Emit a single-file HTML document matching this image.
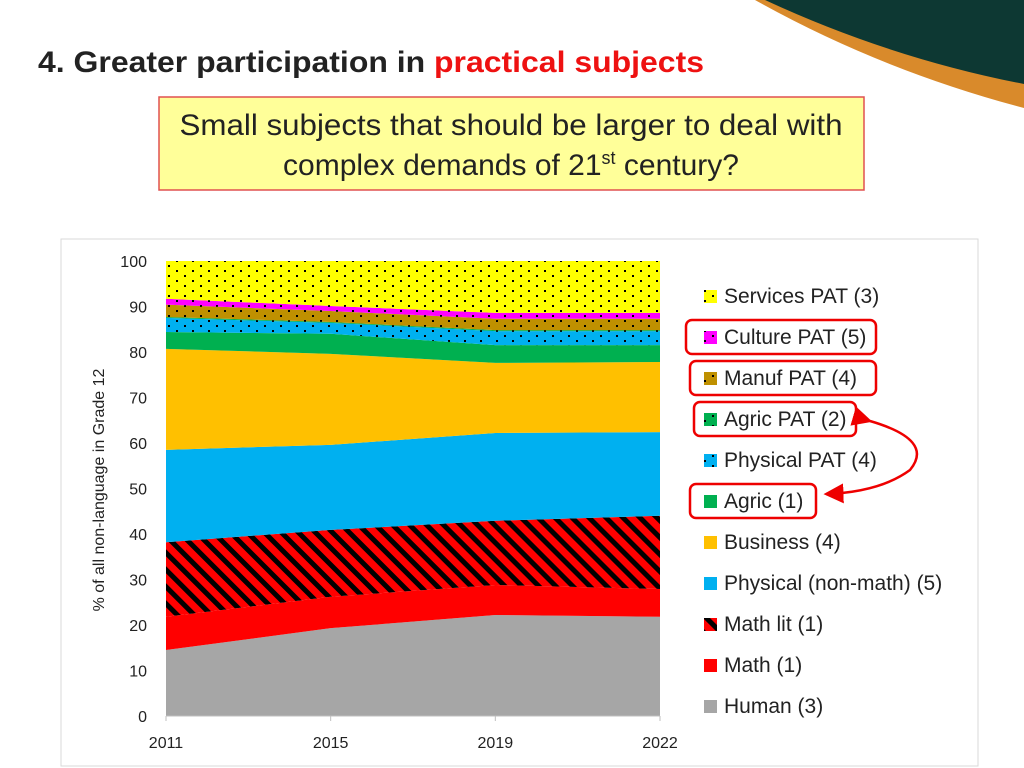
<!DOCTYPE html>
<html><head><meta charset="utf-8"><style>
body{margin:0;width:1024px;height:768px;overflow:hidden;background:#fff;font-family:"Liberation Sans",sans-serif;}
svg{position:absolute;left:0;top:0}
</style></head><body>
<svg width="1024" height="768">
<defs>
<pattern id="dots" width="16" height="10" patternUnits="userSpaceOnUse"><rect x="0" y="0" width="2" height="2" fill="#000"/><rect x="8" y="5" width="2" height="2" fill="#000"/></pattern>
<pattern id="stripes" width="12" height="12" patternUnits="userSpaceOnUse" patternTransform="rotate(-45)"><rect width="12" height="12" fill="#ff0000"/><rect width="5" height="12" fill="#000"/></pattern>
<marker id="ah" markerWidth="8" markerHeight="8" refX="7" refY="4" orient="auto"><path d="M0,0 L8,4 L0,8 z" fill="#e00"/></marker>
</defs>
<path d="M755,0 Q880,70 1024,108 L1024,0 Z" fill="#d98a2b"/>
<path d="M765,0 Q890,58 1024,84 L1024,0 Z" fill="#0d3833"/>
<text x="38" y="72" font-size="30" font-weight="bold" fill="#222" textLength="666" lengthAdjust="spacingAndGlyphs">4. Greater participation in <tspan fill="#ee1111">practical subjects</tspan></text>
<rect x="159" y="97" width="705" height="93" fill="#ffff99" stroke="#e05050" stroke-width="1.5"/>
<text x="511" y="135" font-size="30" text-anchor="middle" fill="#222" textLength="663" lengthAdjust="spacingAndGlyphs">Small subjects that should be larger to deal with</text>
<text x="511" y="175" font-size="30" text-anchor="middle" fill="#222">complex demands of 21<tspan font-size="18" dy="-11">st</tspan><tspan dy="11"> century?</tspan></text>
<rect x="61" y="239" width="917" height="527" fill="#fff" stroke="#d9d9d9"/>
<g id="chart"></g>
<text transform="translate(104,490) rotate(-90)" font-size="16" text-anchor="middle" fill="#222">% of all non-language in Grade 12</text>
<g id="legend"></g>
<g fill="none" stroke="#e00" stroke-width="2.5">
<rect x="686" y="320" width="190" height="34" rx="6"/>
<rect x="690" y="361" width="186" height="34" rx="6"/>
<rect x="694" y="402" width="162" height="34" rx="6"/>
<rect x="690" y="484" width="126" height="34" rx="6"/>
</g>
<path d="M870,421 Q935,440 910,470 Q880,492 826,494" fill="none" stroke="#e00" stroke-width="2.5" marker-start="url(#ah)" marker-end="url(#ah)"/>
</svg>
<script>
const years=["2011","2015","2019","2022"];
const seriesNames=["Human (3)","Math (1)","Math lit (1)","Physical (non-math) (5)","Business (4)","Agric (1)","Physical PAT (4)","Agric PAT (2)","Manuf PAT (4)","Culture PAT (5)","Services PAT (3)"];
const human=[14.5,19.3,22.2,21.8];
const math=[7.3,6.9,6.6,6.1];
const mathLit=[16.4,14.7,14.1,16.1];
const physical=[20.3,18.7,19.3,18.4];
const business=[22.2,20.0,15.4,15.4];
const agric=[3.7,4.4,3.9,3.7];
const physPAT=[3.1,2.4,3.1,3.1];
const agricPAT=[0.2,0.2,0.2,0.2];
const manufPAT=[2.7,2.4,2.5,2.5];
const culturePAT=[1.3,1.1,1.3,1.3];
const servicesPAT=[8.3,9.9,11.4,11.4];
const yTicks=[0,10,20,30,40,50,60,70,80,90,100];
const NS="http://www.w3.org/2000/svg";
const fills=["#a6a6a6","#ff0000","url(#stripes)","#00b0f0","#ffc000","#00b050","#00b0f0","#00b050","#bf9000","#ff00ff","#ffff00"];
const dotted=[false,false,false,false,false,false,true,true,true,true,true];
const all=[human,math,mathLit,physical,business,agric,physPAT,agricPAT,manufPAT,culturePAT,servicesPAT];
const x0=166,x1=660,yb=716,yt=261;
const xs=i=>x0+(x1-x0)*i/(years.length-1);
const ys=v=>yb-(yb-yt)*v/100;
const g=document.getElementById('chart');
function mk(t,a){const e=document.createElementNS(NS,t);for(const k in a)e.setAttribute(k,a[k]);return e;}
let base=years.map(()=>0);
all.forEach((s,si)=>{
  const top=base.map((b,i)=>b+s[i]);
  let d="M"+top.map((v,i)=>xs(i)+","+ys(v)).join(" L");
  for(let i=years.length-1;i>=0;i--)d+=" L"+xs(i)+","+ys(base[i]);
  d+=" Z";
  const p=mk('path',{d:d,fill:fills[si]});
  
  
  g.appendChild(p);
  if(dotted[si]){const q=mk('path',{d:d,fill:"url(#dots)"});
    
    
    g.appendChild(q);}
  base=top;
});
const ax=mk('line',{x1:x0,y1:yb,x2:x1,y2:yb,stroke:"#bfbfbf"});


g.appendChild(ax);
yTicks.forEach(t=>{const e=mk('text',{x:147,y:ys(t)+6,"font-size":16,"text-anchor":"end",fill:"#222"});e.textContent=t;
  
  
  g.appendChild(e);});
years.forEach((y,i)=>{const e=mk('text',{x:xs(i),y:748,"font-size":16,"text-anchor":"middle",fill:"#222"});e.textContent=y;
  
  
  g.appendChild(e);
  const tk=mk('line',{x1:xs(i),y1:yb,x2:xs(i),y2:yb+5,stroke:"#bfbfbf"});
  
  
  g.appendChild(tk);});
const lg=document.getElementById('legend');
for(let si=all.length-1;si>=0;si--){
  const row=all.length-1-si;const cy=296+row*41;
  const r=mk('rect',{x:704,y:cy-6,width:13,height:13,fill:fills[si]});
  
  
  lg.appendChild(r);
  if(dotted[si]){const r2=mk('rect',{x:704,y:cy-6,width:13,height:13,fill:"url(#dots)"});
    
    
    lg.appendChild(r2);}
  const t=mk('text',{x:724,y:cy+7,"font-size":21,fill:"#222"});t.textContent=seriesNames[si];
  
  
  lg.appendChild(t);
}
</script>
</body></html>
